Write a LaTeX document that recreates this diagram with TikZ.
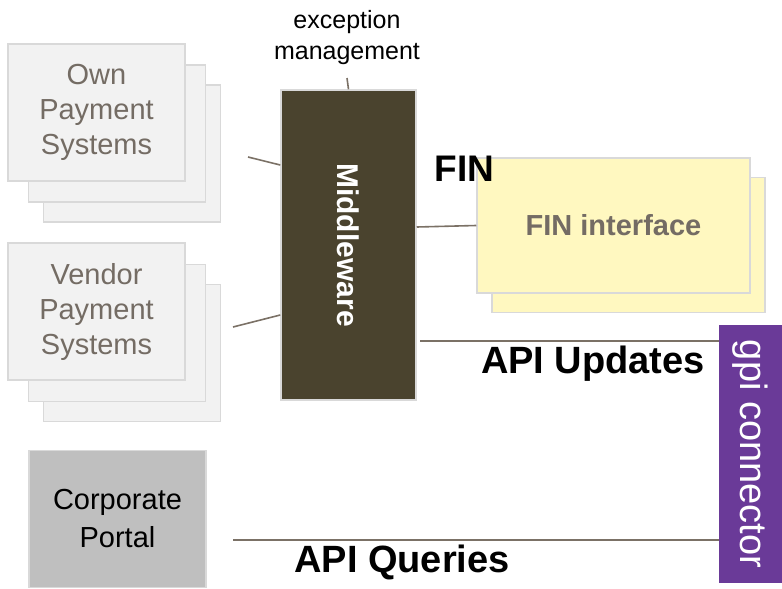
\documentclass[tikz,border=0pt]{standalone}
\usepackage{fontspec}
\setmainfont{Liberation Sans}
\definecolor{stackgray}{RGB}{242,242,242}
\definecolor{edgegray}{RGB}{217,217,217}
\definecolor{labelgray}{RGB}{116,108,100}
\definecolor{middlebrown}{RGB}{74,67,46}
\definecolor{finyellow}{RGB}{255,248,192}
\definecolor{portalgray}{RGB}{191,191,191}
\definecolor{gpipurple}{RGB}{106,58,152}
\definecolor{linkbrown}{RGB}{123,113,102}
\usepackage{tikz}
\usetikzlibrary{positioning}

\begin{document}
\begin{tikzpicture}[x=1pt, y=-1pt,
    sysbox/.style={draw=edgegray, line width=1.5pt, fill=stackgray, minimum width=177pt, minimum height=137pt, inner sep=0pt, align=center, text=labelgray, font=\fontsize{29}{35}\selectfont},
    finbox/.style={draw=edgegray, line width=1.5pt, fill=finyellow, minimum width=273pt, minimum height=135pt, inner sep=0pt, text=labelgray, font=\fontsize{29}{32}\selectfont\bfseries},
    link/.style={draw=linkbrown, line width=1.6pt},
    biglabel/.style={anchor=base, font=\fontsize{38}{42}\selectfont\bfseries}]
    \useasboundingbox (0,0) rectangle (782,589);

    % payment systems, stacked
    \node[sysbox] (own3) at (132,153.5) {};
    \node[sysbox] (own2) at (117,133.5) {};
    \node[sysbox] (own) at (96.5,112.5) {Own\\Payment\\Systems};
    \node[sysbox] (vendor3) at (132,353) {};
    \node[sysbox] (vendor2) at (117,333) {};
    \node[sysbox] (vendor) at (96.5,311.5) {Vendor\\Payment\\Systems};
    \node[sysbox, fill=portalgray, text=black, font=\fontsize{29}{38}\selectfont] (portal) at (117.5,519) {Corporate\\Portal};

    % rotated boxes: width runs along the text
    \node[draw=edgegray, line width=1.5pt, fill=middlebrown, minimum width=310pt, minimum height=135pt, text=white, font=\fontsize{30}{32}\selectfont\bfseries, rotate=-90] (mw) at (348.5,245) {Middleware};
    \node[align=center, font=\fontsize{25}{31}\selectfont] (exc) at (347,38) {exception\\management};

    \node[finbox] (fin2) at (628.5,245) {};
    \node[finbox] (fin) at (613.5,225.5) {FIN interface};
    \node[biglabel, font=\fontsize{37}{40}\selectfont\bfseries] (finlbl) at (464.5,181) {FIN};

    \node[fill=gpipurple, minimum width=258pt, minimum height=63pt, inner sep=0pt, text=white, font=\fontsize{38}{42}\selectfont, rotate=-90] (gpi) at (750.5,454) {gpi connector};

    % connectors
    \coordinate (excEnd) at (347,78);
    \coordinate (ownEnd) at (248,157);
    \coordinate (vendorEnd) at (233,327);
    \coordinate (updStart) at (420,341);
    \coordinate (qryStart) at (233,540);
    \draw[link] (excEnd) -- (mw.west);
    \draw[link] (ownEnd) -- (mw.south west |- 0,165);
    \draw[link] (vendorEnd) -- (mw.south west |- 0,315);
    \draw[link] (mw.north west |- 0,227) -- (fin.west);
    \draw[link] (updStart) -- (updStart -| gpi.south);
    \draw[link] (qryStart) -- (qryStart -| gpi.south);

    \node[biglabel] (upd) at (593,373) {API Updates};
    \node[biglabel] (qry) at (402,572) {API Queries};
\end{tikzpicture}
\end{document}
